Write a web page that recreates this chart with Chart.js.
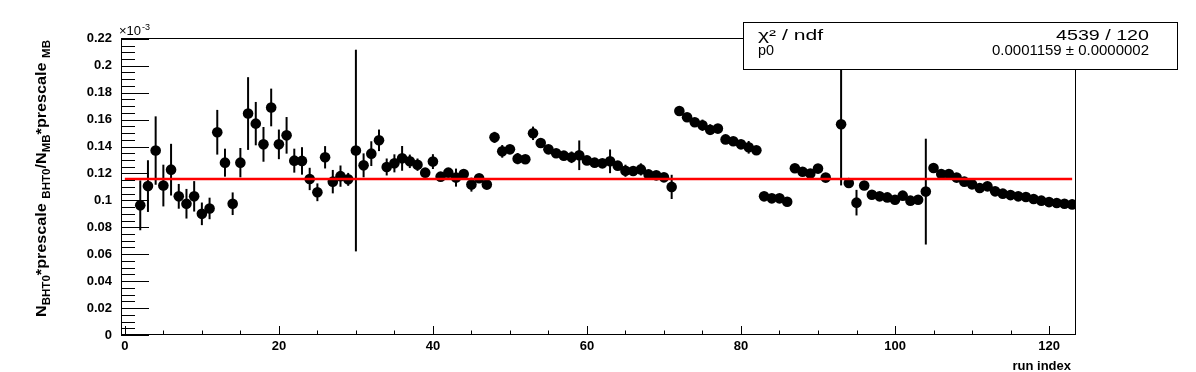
<!DOCTYPE html>
<html>
<head>
<meta charset="utf-8">
<script src="https://cdn.jsdelivr.net/npm/chart.js@4.4.1/dist/chart.umd.min.js"></script>
<style>
  html, body { margin: 0; padding: 0; background: #fff; }
  #wrap { width: 1196px; height: 372px; }
</style>
</head>
<body>
<div id="wrap"><canvas id="chart-bht0-ratio" width="1196" height="372"></canvas></div>
<script>
// run index of each measured run (run 92 has no entry)
const runIndex = [
  2, 3, 4, 5, 6, 7, 8, 9, 10, 11, 12, 13, 14, 15, 16, 17, 18, 19, 20, 21,
  22, 23, 24, 25, 26, 27, 28, 29, 30, 31, 32, 33, 34, 35, 36, 37, 38, 39, 40, 41,
  42, 43, 44, 45, 46, 47, 48, 49, 50, 51, 52, 53, 54, 55, 56, 57, 58, 59, 60, 61,
  62, 63, 64, 65, 66, 67, 68, 69, 70, 71, 72, 73, 74, 75, 76, 77, 78, 79, 80, 81,
  82, 83, 84, 85, 86, 87, 88, 89, 90, 91,
  93, 94, 95, 96, 97, 98, 99, 100, 101, 102, 103, 104, 105, 106, 107, 108, 109, 110, 111, 112,
  113, 114, 115, 116, 117, 118, 119, 120, 121, 122, 123
];

// ratio in units of 1e-3
const ratio = [
  0.0963, 0.1106, 0.137, 0.111, 0.1228, 0.103, 0.0975, 0.103, 0.090, 0.094,
  0.1506, 0.128, 0.0975, 0.128, 0.1645, 0.157, 0.1416, 0.169, 0.1416, 0.1483,
  0.1295, 0.1293, 0.1159, 0.106, 0.132, 0.1139, 0.118, 0.1156, 0.137, 0.126,
  0.1347, 0.1446, 0.1248, 0.1275, 0.1312, 0.129, 0.1265, 0.1206, 0.1288, 0.1176,
  0.1206, 0.1169, 0.1196, 0.1117, 0.1164, 0.1117, 0.1468, 0.1364, 0.1379, 0.131,
  0.1305, 0.1498, 0.1426, 0.1379, 0.135, 0.1332, 0.132, 0.1335, 0.1297, 0.128,
  0.1275, 0.129, 0.1258, 0.122, 0.1218, 0.123, 0.1193, 0.1186, 0.1171, 0.110,
  0.1664, 0.1617, 0.158, 0.1558, 0.1525, 0.1533, 0.1453, 0.1439, 0.1416, 0.1394,
  0.1372, 0.103, 0.1015, 0.1015, 0.099, 0.1238, 0.1213, 0.1199, 0.1236, 0.1169,
  0.1565, 0.1129, 0.0983, 0.111, 0.1042, 0.103, 0.1022, 0.1005, 0.1035, 0.0998,
  0.1005, 0.1065, 0.124, 0.1196, 0.1196, 0.1169, 0.1139, 0.1119, 0.1092, 0.1104,
  0.1067, 0.105, 0.1039, 0.103, 0.1025, 0.101, 0.0998, 0.0987, 0.098, 0.0975,
  0.097
];

const ratioErr = [
  0.0185, 0.0192, 0.0254, 0.0155, 0.0192, 0.0092, 0.011, 0.0113, 0.0084, 0.008,
  0.0166, 0.0104, 0.0084, 0.0109, 0.027, 0.0161, 0.0129, 0.014, 0.011, 0.0136,
  0.0089, 0.0102, 0.0083, 0.0066, 0.0083, 0.0087, 0.0079, 0.0048, 0.0749, 0.0089,
  0.0092, 0.008, 0.0063, 0.0067, 0.0092, 0.005, 0.0046, 0.003, 0.0055, 0.003,
  0.003, 0.0067, 0.003, 0.0052, 0.003, 0.003, 0.0041, 0.0047, 0.003, 0.0042,
  0.003, 0.005, 0.003, 0.003, 0.003, 0.003, 0.0043, 0.011, 0.003, 0.003,
  0.003, 0.0088, 0.003, 0.0045, 0.003, 0.0045, 0.003, 0.003, 0.003, 0.009,
  0.0025, 0.0025, 0.0025, 0.0042, 0.004, 0.0025, 0.0025, 0.0025, 0.0025, 0.0047,
  0.0025, 0.0025, 0.0025, 0.0025, 0.0025, 0.0025, 0.0025, 0.0025, 0.0025, 0.0025,
  0.0454, 0.003, 0.0095, 0.003, 0.0025, 0.0025, 0.0025, 0.0025, 0.0025, 0.0025,
  0.0025, 0.0393, 0.002, 0.002, 0.002, 0.002, 0.002, 0.002, 0.002, 0.002,
  0.002, 0.002, 0.002, 0.002, 0.002, 0.002, 0.002, 0.002, 0.002, 0.002,
  0.002
];

// constant fit p0 (x1e-3) and the range it was drawn over
const fitP0 = 0.1159;
const fitRange = [0, 123];

const statsRows = [
  ['\u03c7\u00b2 / ndf', '4539 / 120'],
  ['p0', '0.0001159 \u00b1 0.0000002']
];

const yTitle = [
  ['N', false], ['BHT0', true], ['*prescale ', false], ['BHT0', true],
  ['/N', false], ['MB', true], ['*prescale ', false], ['MB', true]
];

const FONT = '"Liberation Sans", Arial, Helvetica, sans-serif';

const points = runIndex.map((x, i) => ({ x: x, y: ratio[i] }));

// draw text squeezed/stretched to a given width
function fitText(ctx, text, x, y, width, align) {
  const w = ctx.measureText(text).width;
  const sx = width / w;
  ctx.save();
  ctx.textAlign = 'left';
  ctx.translate(align === 'right' ? x - width : x, y);
  ctx.scale(sx, 1);
  ctx.fillText(text, 0, 0);
  ctx.restore();
}

const rootStyle = {
  id: 'rootStyle',
  beforeDatasetsDraw(chart) {
    const { ctx, chartArea, scales: { x, y } } = chart;
    ctx.save();
    ctx.beginPath();
    ctx.rect(chartArea.left, chartArea.top, chartArea.right - chartArea.left, chartArea.bottom - chartArea.top);
    ctx.clip();
    ctx.strokeStyle = '#000';
    ctx.lineWidth = 2;
    runIndex.forEach((r, i) => {
      const px = x.getPixelForValue(r);
      ctx.beginPath();
      ctx.moveTo(px, y.getPixelForValue(ratio[i] - ratioErr[i]));
      ctx.lineTo(px, y.getPixelForValue(ratio[i] + ratioErr[i]));
      ctx.stroke();
    });
    ctx.restore();
  },
  afterDraw(chart) {
    const { ctx, chartArea: a, scales: { x, y } } = chart;
    ctx.save();
    ctx.strokeStyle = '#000';
    ctx.lineWidth = 1;
    ctx.strokeRect(a.left + 0.5, a.top + 0.5, a.right - a.left - 1, a.bottom - a.top - 1);

    // ticks inside the frame
    ctx.beginPath();
    for (let v = 0; v <= 0.2201; v += 0.005) {
      const py = Math.round(y.getPixelForValue(v)) + 0.5;
      const major = Math.abs(v / 0.02 - Math.round(v / 0.02)) < 1e-6;
      ctx.moveTo(a.left, py);
      ctx.lineTo(a.left + (major ? 28 : 14), py);
    }
    for (let v = 0; v <= 123; v += 5) {
      const px = Math.round(x.getPixelForValue(v)) + 0.5;
      const major = v % 20 === 0;
      ctx.moveTo(px, a.bottom);
      ctx.lineTo(px, a.bottom - (major ? 9 : 4.5));
    }
    ctx.stroke();

    ctx.fillStyle = '#000';
    // exponent
    ctx.textBaseline = 'alphabetic';
    ctx.textAlign = 'left';
    ctx.font = '13px ' + FONT;
    ctx.fillText('\u00d710', 119, 35);
    const w10 = ctx.measureText('\u00d710').width;
    ctx.font = '9px ' + FONT;
    ctx.fillText('-3', 119 + w10 + 1, 30);

    // x title
    ctx.font = 'bold 13px ' + FONT;
    ctx.textAlign = 'right';
    ctx.fillText('run index', 1071, 370);

    // y title with subscripts, stretched along the axis like the original
    ctx.save();
    ctx.translate(46, 40);
    ctx.rotate(-Math.PI / 2);
    ctx.textAlign = 'left';
    const mainFont = 'bold 14px ' + FONT;
    const subFont = 'bold 10px ' + FONT;
    let total = 0;
    yTitle.forEach(([t, sub]) => { ctx.font = sub ? subFont : mainFont; total += ctx.measureText(t).width; });
    ctx.translate(-277, 0);
    ctx.scale(277 / total, 1);
    let cx = 0;
    yTitle.forEach(([t, sub]) => {
      ctx.font = sub ? subFont : mainFont;
      ctx.fillText(t, cx, sub ? 4 : 0);
      cx += ctx.measureText(t).width;
    });
    ctx.restore();

    // stats box
    ctx.fillStyle = '#fff';
    ctx.fillRect(743, 22, 434, 47);
    ctx.strokeRect(743.5, 22.5, 434, 47);
    ctx.fillStyle = '#000';
    ctx.font = '15px ' + FONT;
    fitText(ctx, statsRows[0][0], 758, 40, 65, 'left');
    fitText(ctx, statsRows[0][1], 1149, 40, 93, 'right');
    fitText(ctx, statsRows[1][0], 758, 54.5, 16, 'left');
    fitText(ctx, statsRows[1][1], 1149, 54.5, 157, 'right');
    ctx.restore();
  }
};

new Chart(document.getElementById('chart-bht0-ratio'), {
  type: 'scatter',
  data: {
    datasets: [
      {
        type: 'line',
        label: 'fit',
        data: fitRange.map(v => ({ x: v, y: fitP0 })),
        borderColor: '#ff0000',
        borderWidth: 2.5,
        pointRadius: 0,
        fill: false,
        order: 0
      },
      {
        label: 'ratio',
        data: points,
        backgroundColor: '#000',
        borderColor: '#000',
        pointRadius: 5.3,
        pointBorderWidth: 0,
        order: 1
      }
    ]
  },
  options: {
    responsive: false,
    animation: false,
    events: [],
    layout: { padding: { left: 0, top: 38, right: 120, bottom: 0 } },
    plugins: {
      legend: { display: false },
      title: { display: false },
      tooltip: { enabled: false }
    },
    scales: {
      x: {
        type: 'linear',
        min: -0.5,
        max: 123.5,
        grid: { display: false, drawTicks: false },
        border: { display: false },
        ticks: {
          stepSize: 20,
          includeBounds: false,
          autoSkip: false,
          maxRotation: 0,
          padding: 4,
          color: '#000',
          font: { family: FONT, weight: 'bold', size: 13 }
        },
        afterFit: s => { s.height = 37; }
      },
      y: {
        type: 'linear',
        min: 0,
        max: 0.2206,
        grid: { display: false, drawTicks: false },
        border: { display: false },
        ticks: {
          stepSize: 0.02,
          includeBounds: false,
          padding: 9,
          color: '#000',
          font: { family: FONT, weight: 'bold', size: 13 },
          callback: v => String(+v.toFixed(3))
        },
        afterFit: s => { s.width = 121; }
      }
    }
  },
  plugins: [rootStyle]
});
</script>
</body>
</html>
